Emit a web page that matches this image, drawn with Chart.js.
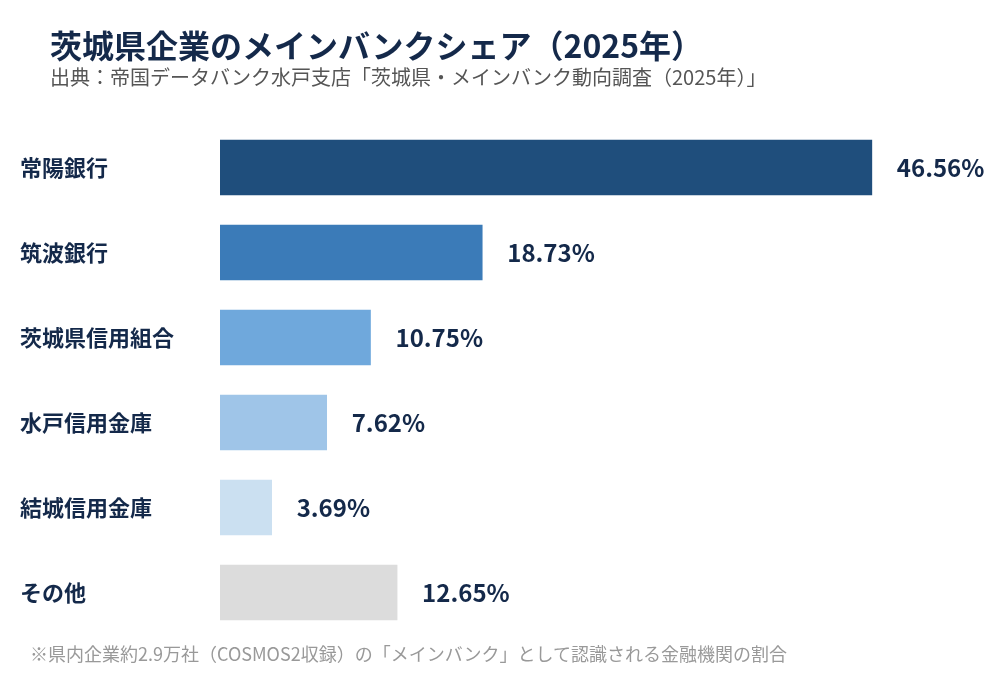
<!DOCTYPE html>
<html lang="ja">
<head>
<meta charset="utf-8">
<title>茨城県企業のメインバンクシェア（2025年）</title>
<script src="https://cdn.jsdelivr.net/npm/chart.js@4.4.1/dist/chart.umd.min.js"></script>
<style>
  body { margin:0; background:#fff; font-family:"Noto Sans CJK JP","Noto Sans",sans-serif; }
  #wrap { position:relative; width:1000px; height:700px; }
  #title { position:absolute; left:50px; top:21px; font-size:32px; font-weight:700; color:#14294a; white-space:nowrap; }
  #sub { position:absolute; left:50px; top:62px; font-size:20px; color:#555; white-space:nowrap; }
  #note { position:absolute; left:30px; top:640px; font-size:18px; color:#999; white-space:nowrap; }
  canvas { position:absolute; left:0; top:0; }
</style>
</head>
<body>
<div id="wrap">
  <canvas id="myChart" width="1000" height="700"></canvas>
  <div id="title">茨城県企業のメインバンクシェア（2025年）</div>
  <div id="sub">出典：帝国データバンク水戸支店「茨城県・メインバンク動向調査（2025年）」</div>
  <div id="note">※県内企業約2.9万社（COSMOS2収録）の「メインバンク」として認識される金融機関の割合</div>
</div>
<script>
const banks = ['常陽銀行', '筑波銀行', '茨城県信用組合', '水戸信用金庫', '結城信用金庫', 'その他'];
const shares = [46.56, 18.73, 10.75, 7.62, 3.69, 12.65];
const barColors = ['#1f4e7c', '#3b7bb8', '#6fa8dc', '#9fc5e8', '#cbe0f1', '#dcdcdc'];

// percent label after each bar
const valueLabels = {
  id: 'valueLabels',
  afterDatasetsDraw(chart) {
    const ctx = chart.ctx;
    const meta = chart.getDatasetMeta(0);
    ctx.save();
    ctx.font = 'bold 24px "Noto Sans CJK JP", "Noto Sans", sans-serif';
    ctx.fillStyle = '#14294a';
    ctx.textBaseline = 'middle';
    ctx.textAlign = 'left';
    meta.data.forEach(function(bar, i) {
      ctx.fillText(shares[i].toFixed(2) + '%', bar.x + 25, bar.y);
    });
    ctx.restore();
  }
};

const config = {
  type: 'bar',
  data: {
    labels: banks,
    datasets: [{
      data: shares,
      backgroundColor: barColors,
      borderWidth: 0,
      barThickness: 55
    }]
  },
  options: {
    indexAxis: 'y',
    responsive: false,
    animation: false,
    layout: { padding: { left: 20, right: 10, top: 125, bottom: 65 } },
    plugins: {
      legend: { display: false },
      tooltip: { enabled: false }
    },
    scales: {
      x: { display: false, min: 0, max: 55 },
      y: {
        grid: { display: false },
        border: { display: false },
        afterFit(axis) { axis.width = 200; },
        ticks: {
          crossAlign: 'far',
          color: '#14294a',
          font: { family: '"Noto Sans CJK JP", "Noto Sans", sans-serif', size: 22, weight: 'bold' }
        }
      }
    }
  },
  plugins: [valueLabels]
};

var myChart = new Chart(document.getElementById('myChart'), config);
</script>
</body>
</html>
